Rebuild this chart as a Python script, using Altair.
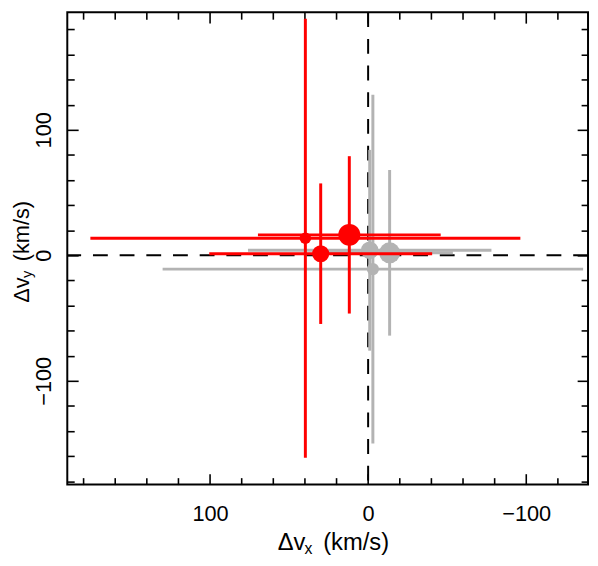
import altair as alt
import pandas as pd

# --- data ---
group = ["gray", "gray", "gray", "red", "red", "red"]
dvx = [-3.0, -1.0, -13.6, 39.7, 11.9, 30.0]
dvy = [-11.0, 4.0, 2.0, 13.6, 16.3, 1.3]
xerr = [133.0, 77.0, 40.0, 136.0, 57.8, 70.5]
yerr = [139.0, 80.0, 66.0, 175.0, 62.7, 56.0]
msize = [154, 314, 452, 139, 491, 299]

major = [-100, 0, 100]
minor_x = [-120, -80, -60, -40, -20, 20, 40, 60, 80, 120, 140, 160, 180]
minor_y = [-180, -160, -140, -120, -80, -60, -40, -20, 20, 40, 60, 80, 120, 140, 160, 180]

df = pd.DataFrame({"group": group, "dvx": dvx, "dvy": dvy, "xerr": xerr,
                   "yerr": yerr, "size": msize})
df["xlo"] = df.dvx - df.xerr
df["xhi"] = df.dvx + df.xerr
df["ylo"] = df.dvy - df.yerr
df["yhi"] = df.dvy + df.yerr

FONT = "Liberation Sans"
FS = 22
TFS = 24
W, H = 527, 478
xsc = alt.Scale(domain=[-139.1, 190.3], reverse=True, nice=False, zero=False)
ysc = alt.Scale(domain=[-182.7, 193.7], nice=False, zero=False)
col = alt.Scale(domain=["gray", "red"], range=["#b3b3b3", "#ff0000"])


def ax(orient, values, size, labels):
    kw = dict(orient=orient, values=values, tickSize=size, offset=-size,
              domain=False, grid=False, ticks=True, tickColor="black",
              tickWidth=1.6, labels=labels, title=None, format="d")
    if labels:
        kw.update(labelFont=FONT, labelFontSize=FS, labelColor="black",
                  labelFlush=False, labelOverlap=False)
        if orient == "left":
            kw.update(labelAngle=270, labelAlign="center",
                      labelBaseline="bottom", labelPadding=12)
        else:
            kw.update(labelPadding=19)
    return alt.Axis(**kw)


axes = [
    (ax("bottom", major, 11, True), ax("left", major, 11, True)),
    (ax("bottom", minor_x, 7, False), ax("left", minor_y, 7, False)),
    (ax("top", major, 11, False), ax("right", major, 11, False)),
    (ax("top", minor_x, 7, False), ax("right", minor_y, 7, False)),
    (None, None),
    (None, None),
]

zero = pd.DataFrame({"v": [0]})
dash_v = alt.Chart(zero).mark_rule(color="black", strokeWidth=2, strokeDash=[15, 12]).encode(
    x=alt.X("v:Q", scale=xsc, axis=None))
dash_h = alt.Chart(zero).mark_rule(color="black", strokeWidth=2, strokeDash=[15, 12]).encode(
    y=alt.Y("v:Q", scale=ysc, axis=None))

layers = [dash_v, dash_h]
i = 0
for g in ["gray", "red"]:
    base = alt.Chart(df).transform_filter(alt.datum.group == g)
    a1 = axes[i]; a2 = axes[i + 1]; a3 = axes[i + 2]
    i += 3
    ex = base.mark_rule(strokeWidth=3).encode(
        x=alt.X("xlo:Q", scale=xsc, axis=a1[0]), x2="xhi:Q",
        y=alt.Y("dvy:Q", scale=ysc, axis=a1[1]),
        color=alt.Color("group:N", scale=col, legend=None))
    ey = base.mark_rule(strokeWidth=3).encode(
        x=alt.X("dvx:Q", scale=xsc, axis=a2[0]),
        y=alt.Y("ylo:Q", scale=ysc, axis=a2[1]), y2="yhi:Q",
        color=alt.Color("group:N", scale=col, legend=None))
    pt = base.mark_circle(opacity=1).encode(
        x=alt.X("dvx:Q", scale=xsc, axis=a3[0]),
        y=alt.Y("dvy:Q", scale=ysc, axis=a3[1]),
        size=alt.Size("size:Q", scale=None, legend=None),
        color=alt.Color("group:N", scale=col, legend=None))
    layers += [ex, ey, pt]

# axis titles with subscripts (annotation text)
ttl = pd.DataFrame({"t": [0]})
def piece(text, xv, yv, dx, dy, size, angle=0):
    return alt.Chart(ttl).mark_text(text=text, font=FONT, fontSize=size, color="black",
                                    align="left", baseline="middle", dx=dx, dy=dy,
                                    angle=angle).encode(x=alt.value(xv), y=alt.value(yv))

xt_x, xt_y = 213, 537
yt_x, yt_y = -46, 294
titles = [
    piece("Δv", xt_x, xt_y, 0, 0, TFS),
    piece("x", xt_x, xt_y, 27, 6, 16),
    piece("(km/s)", xt_x, xt_y, 46, 0, TFS),
    piece("Δv", yt_x, yt_y, 0, 0, 22, 270),
    piece("y", yt_x, yt_y, 25, 5, 15, 270),
    piece("(km/s)", yt_x, yt_y, 42, 0, 22, 270),
]

chart = alt.layer(*layers, *titles).resolve_axis(
    x="independent", y="independent"
).properties(
    width=W, height=H,
    autosize=alt.AutoSizeParams(type="none"),
    padding={"left": 60, "top": 1, "right": 2, "bottom": 71},
).configure_view(stroke="black", strokeWidth=2)

chart.save("out.html", embed_options={"renderer": "svg", "actions": False})
